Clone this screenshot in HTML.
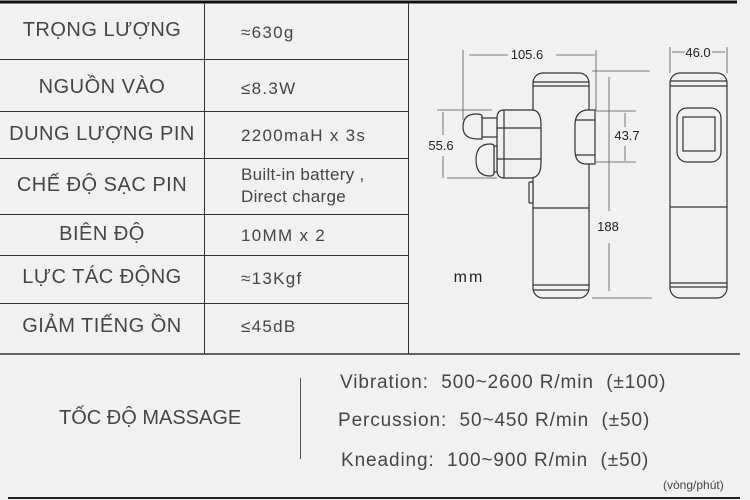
<!DOCTYPE html>
<html><head><meta charset="utf-8"><style>
html,body{margin:0;padding:0}
body{width:750px;height:500px;background:#f0f1f3;position:relative;overflow:hidden;font-family:"Liberation Sans","DejaVu Sans",sans-serif;color:#454545}
.l{position:absolute;left:0;width:204px;text-align:center;font-size:20px;letter-spacing:0.5px}
.r{position:absolute;left:241px;font-family:"Liberation Sans",sans-serif;font-size:17px;letter-spacing:1.3px}
.b{position:absolute;font-family:"Liberation Sans",sans-serif;font-size:19px;letter-spacing:0.9px;white-space:nowrap}
</style></head><body>
<svg width="750" height="500" style="position:absolute;left:0;top:0">
<g stroke="#333" fill="none">
<line x1="0" y1="2" x2="737" y2="2" stroke-width="3" stroke="#111"/>
<line x1="0" y1="59.5" x2="408" y2="59.5"/>
<line x1="0" y1="111.5" x2="408" y2="111.5"/>
<line x1="0" y1="158.5" x2="408" y2="158.5"/>
<line x1="0" y1="214.5" x2="408" y2="214.5"/>
<line x1="0" y1="255.5" x2="408" y2="255.5"/>
<line x1="0" y1="303.5" x2="408" y2="303.5"/>
<line x1="0" y1="354" x2="740" y2="354" stroke-width="1.5"/>
<line x1="204.5" y1="3" x2="204.5" y2="354"/>
<line x1="408.5" y1="3" x2="408.5" y2="354"/>
<line x1="300.5" y1="378" x2="300.5" y2="459" stroke="#555"/>
<line x1="8" y1="498" x2="740" y2="498" stroke-width="2" stroke="#222"/>
</g>
<g stroke="#333" fill="#f0f1f3" stroke-width="1.2">
<rect x="533" y="73" width="56" height="225" rx="10"/>
<line x1="533" y1="82" x2="589" y2="82"/><line x1="533" y1="86" x2="589" y2="86"/>
<line x1="533" y1="285" x2="589" y2="285"/><line x1="533" y1="290" x2="589" y2="290"/>
<line x1="533" y1="208" x2="589" y2="208"/>
<rect x="529" y="182" width="4" height="21" rx="1"/>
<path d="M504 110 H532 Q541 110 541 125 V163 Q541 178 530 178 H504 Q497 178 497 170 V118 Q497 110 504 110Z"/>
<line x1="497" y1="128" x2="541" y2="128"/><line x1="497" y1="159" x2="541" y2="159"/>
<line x1="504" y1="110" x2="504" y2="178"/>
<rect x="482" y="118" width="15" height="19"/>
<path d="M482 116 V139 H478 Q463 139 463 127 Q463 114 476 114 Q482 114 482 116Z"/>
<rect x="494" y="146" width="3" height="26"/>
<path d="M494 146 V173 Q494 176 490 176 Q476 176 476 160 Q476 144 490 144 Q494 144 494 146Z"/>
<path d="M595 110 H586 Q575 112 575 125 V150 Q575 164 586 164 H595Z"/>
<line x1="575" y1="120" x2="595" y2="120"/><line x1="575" y1="155" x2="595" y2="155"/>
<rect x="670" y="73" width="57" height="225" rx="10"/>
<line x1="670" y1="81" x2="727" y2="81"/><line x1="670" y1="86" x2="727" y2="86"/>
<line x1="670" y1="283" x2="727" y2="283"/><line x1="670" y1="287" x2="727" y2="287"/>
<line x1="670" y1="207" x2="727" y2="207"/>
<rect x="677" y="108" width="44" height="54" rx="10"/>
<rect x="683" y="117" width="32" height="34"/>
</g>
<g stroke="#555" stroke-width="0.8" fill="none">
<line x1="463" y1="50" x2="463" y2="120"/><line x1="596" y1="50" x2="596" y2="110"/>
<line x1="469" y1="55" x2="508" y2="55"/><line x1="556" y1="55" x2="595" y2="55"/>
<line x1="437" y1="110" x2="492" y2="110"/><line x1="447" y1="178" x2="497" y2="178"/>
<line x1="443" y1="112" x2="443" y2="135"/><line x1="443" y1="156" x2="443" y2="178"/>
<line x1="595" y1="111" x2="636" y2="111"/><line x1="595" y1="162" x2="636" y2="162"/>
<line x1="625" y1="113" x2="625" y2="127"/><line x1="625" y1="146" x2="625" y2="161"/>
<line x1="592" y1="71" x2="650" y2="71"/><line x1="592" y1="298" x2="652" y2="298"/>
<line x1="609" y1="77" x2="609" y2="211"/><line x1="609" y1="243" x2="609" y2="291"/>
<line x1="670" y1="47" x2="670" y2="73"/><line x1="727" y1="47" x2="727" y2="73"/>
<line x1="672" y1="52" x2="685" y2="52"/><line x1="712" y1="52" x2="725" y2="52"/>
</g>
<g font-family="Liberation Sans,sans-serif" font-size="13" fill="#222" text-anchor="middle">
<text x="527" y="59">105.6</text>
<text x="441" y="150">55.6</text>
<text x="627" y="140">43.7</text>
<text x="608" y="231">188</text>
<text x="698" y="57">46.0</text>
<text x="469" y="282" font-size="16" letter-spacing="2">mm</text>
</g>
</svg>
<div class="l" style="top:19px">TRỌNG LƯỢNG</div>
<div class="l" style="top:76px">NGUỒN VÀO</div>
<div class="l" style="top:123px">DUNG LƯỢNG PIN</div>
<div class="l" style="top:174px">CHẾ ĐỘ SẠC PIN</div>
<div class="l" style="top:223px">BIÊN ĐỘ</div>
<div class="l" style="top:266px">LỰC TÁC ĐỘNG</div>
<div class="l" style="top:315px">GIẢM TIẾNG ỒN</div>
<div class="r" style="top:23px">≈630g</div>
<div class="r" style="top:79px">≤8.3W</div>
<div class="r" style="top:126px">2200maH x 3s</div>
<div class="r" style="top:164px;letter-spacing:0.3px;line-height:22px">Built-in battery ,<br>Direct charge</div>
<div class="r" style="top:226px">10MM x 2</div>
<div class="r" style="top:269px">≈13Kgf</div>
<div class="r" style="top:317px">≤45dB</div>
<div class="b" style="left:59px;top:407px;font-size:20px;letter-spacing:0">TỐC ĐỘ MASSAGE</div>
<div class="b" style="left:340px;top:372px">Vibration:&nbsp;&nbsp;500~2600 R/min&nbsp;&nbsp;(±100)</div>
<div class="b" style="left:338px;top:410px">Percussion:&nbsp;&nbsp;50~450 R/min&nbsp;&nbsp;(±50)</div>
<div class="b" style="left:341px;top:450px">Kneading:&nbsp;&nbsp;100~900 R/min&nbsp;&nbsp;(±50)</div>
<div class="b" style="left:663px;top:478px;font-size:12px;letter-spacing:0">(vòng/phút)</div>
</body></html>
